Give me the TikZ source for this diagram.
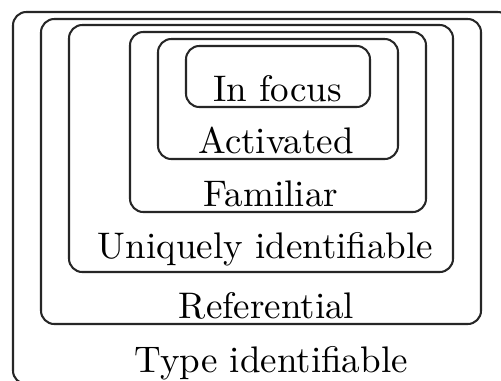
\documentclass[tikz,border=0pt]{standalone}
\begin{document}
\begin{tikzpicture}[x=0.2703pt,y=-0.2703pt,
  box/.style={draw=black!85,line width=0.55pt,rounded corners=3.6pt},
  lbl/.style={anchor=base,inner sep=0pt,font=\fontsize{10}{12}\selectfont}]
\clip (0,0) rectangle (501,380);
\fill[white] (0,0) rectangle (501,380);
\draw[box] (13,12) rectangle (511,384);
\draw[box] (41,19) rectangle (481,324);
\draw[box] (69,25) rectangle (453,272);
\draw[box] (130,32) rectangle (426,212);
\draw[box] (158,39) rectangle (398,159);
\draw[box] (186,46) rectangle (370,107);
\node[lbl] (infocus) at (277.5,101) {In focus};
\node[lbl] (activated) at (276,153) {Activated};
\node[lbl] (familiar) at (271,206) {Familiar};
\node[lbl] (unique) at (265.5,258) {Uniquely identifiable};
\node[lbl] (ref) at (266.5,318) {Referential};
\node[lbl] (type) at (271,372) {Type identifiable};
\end{tikzpicture}
\end{document}
